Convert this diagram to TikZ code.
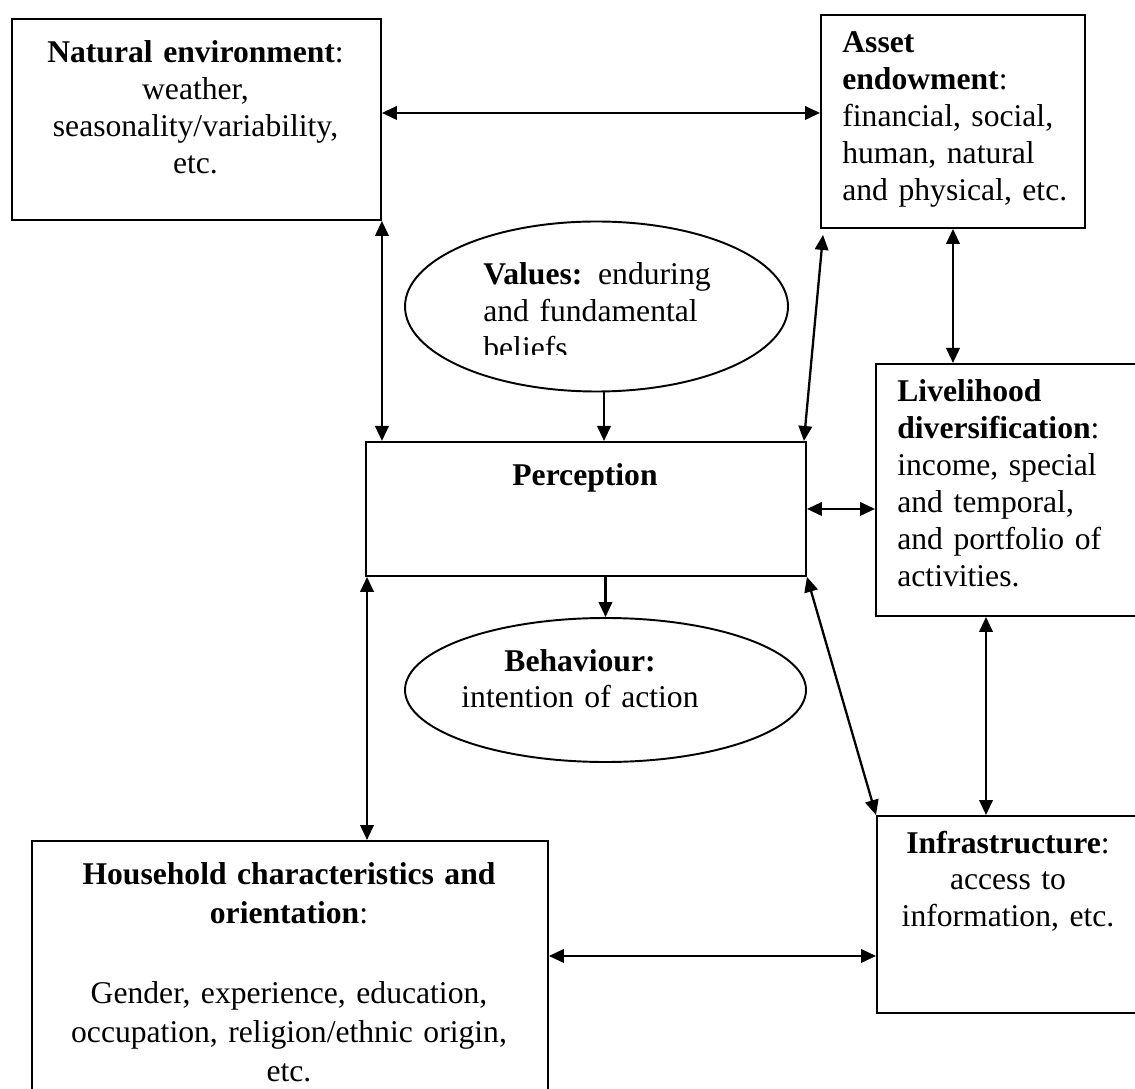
\documentclass[tikz,border=0pt]{standalone}
\usepackage{fontspec}
\setmainfont{Liberation Serif}
\usepackage{tikz}
\usetikzlibrary{arrows.meta,shapes,positioning}

\begin{document}
\begin{tikzpicture}[
    font=\fontsize{18}{21}\selectfont,
    box/.style={draw, line width=1.1pt, rectangle, inner sep=0pt, anchor=north west},
    oval/.style={draw, line width=1.1pt, ellipse, inner sep=0pt},
    txt/.style={inner sep=0pt, align=center, text width=#1, anchor=base},
    txt/.default=8cm,
    ltxt/.style={inner sep=0pt, align=left, text width=#1, anchor=base west},
    ltxt/.default=5cm,
    link/.style={line width=1.3pt, {Triangle[length=3mm,width=2.7mm]}-{Triangle[length=3mm,width=2.7mm]}},
    flow/.style={line width=1.3pt, -{Triangle[length=3mm,width=2.7mm]}}
]
            % Page area
            \clip (0,0) rectangle (22.70,21.76);
            \fill[white] (0,0) rectangle (22.70,21.76);

            % Boxes
            \node[box, minimum width=7.38cm, minimum height=4.02cm] (natural) at (0.22,21.40) {};
            \node[box, minimum width=5.28cm, minimum height=4.26cm] (asset) at (16.40,21.48) {};
            \node[box, minimum width=5.40cm, minimum height=5.04cm] (livelihood) at (17.50,14.50) {};
            \node[box, minimum width=8.80cm, minimum height=2.68cm] (perception) at (7.30,12.94) {};
            \node[box, minimum width=5.40cm, minimum height=3.94cm] (infra) at (17.52,5.46) {};
            \node[box, minimum width=10.32cm, minimum height=5.04cm] (household) at (0.62,4.96) {};

            % Ellipses
            \node[oval, minimum width=7.66cm, minimum height=3.40cm] (values) at (11.93,15.63) {};
            \node[oval, minimum width=8.02cm, minimum height=2.88cm] (behaviour) at (12.11,7.96) {};

            % Texts
            \node[txt=7cm] (naturaltxt) at (3.91,20.50) {\textbf{Natural environment}:\\ weather,\\ seasonality/variability,\\ etc.};
            \node[ltxt] (assettxt) at (16.84,20.70) {\textbf{Asset}\\ \textbf{endowment}:\\ financial, social,\\ human, natural\\ and physical, etc.};
            \node[ltxt] (livelihoodtxt) at (17.94,13.72) {\textbf{Livelihood}\\ \textbf{diversification}:\\ income, special\\ and temporal,\\ and portfolio of\\ activities.};
            \node[txt] (perceptiontxt) at (11.70,12.04) {\textbf{Perception}};
            \node[txt=5cm] (infratxt) at (20.16,4.70) {\textbf{Infrastructure}:\\ access to\\ information, etc.};
            \node[txt=10cm, font=\fontsize{18}{22.2}\selectfont] (householdtxt) at (5.78,4.08)
                {\textbf{Household characteristics and}\\ \textbf{orientation}:\\[0.82cm] Gender, experience, education,\\ occupation, religion/ethnic origin,\\ etc.};
            \node[txt=7cm] (behaviourtxt) at (11.60,8.34) {\textbf{Behaviour:}\\ intention of action};
            \begin{scope}
                \clip (8,14.66) rectangle (16,17.5);
                \node[ltxt=6cm] (valuestxt) at (9.66,16.06) {\textbf{Values:} enduring\\ and fundamental\\ beliefs};
            \end{scope}

            % Arrows
            \draw[link] ([yshift=0.13cm]natural.east) -- ([yshift=0.13cm]natural.east -| asset.west);
            \draw[link] (natural.south east) -- (natural.south east |- perception.north);
            \draw[flow] ([xshift=0.15cm]values.south) -- ([xshift=0.15cm]values.south |- perception.north);
            \draw[link] ([shift={(0.06,-0.12)}]asset.south west) -- ([xshift=-0.06cm]perception.north east);
            \draw[link] (asset.south) -- (asset.south |- livelihood.north);
            \draw[link] (perception.east) -- (perception.east -| livelihood.west);
            \draw[flow] (perception.south -| behaviour.north) -- (behaviour.north);
            \draw[link] ([xshift=0.04cm]perception.south west) -- ([xshift=0.04cm]perception.south west |- household.north);
            \draw[link] (perception.south east) -- (infra.north west);
            \draw[link] ([xshift=2.22cm]livelihood.south west) -- ([xshift=2.22cm]livelihood.south west |- infra.north);
            \draw[link] ([yshift=0.22cm]household.east) -- ([yshift=0.22cm]household.east -| infra.west);
\end{tikzpicture}
\end{document}
